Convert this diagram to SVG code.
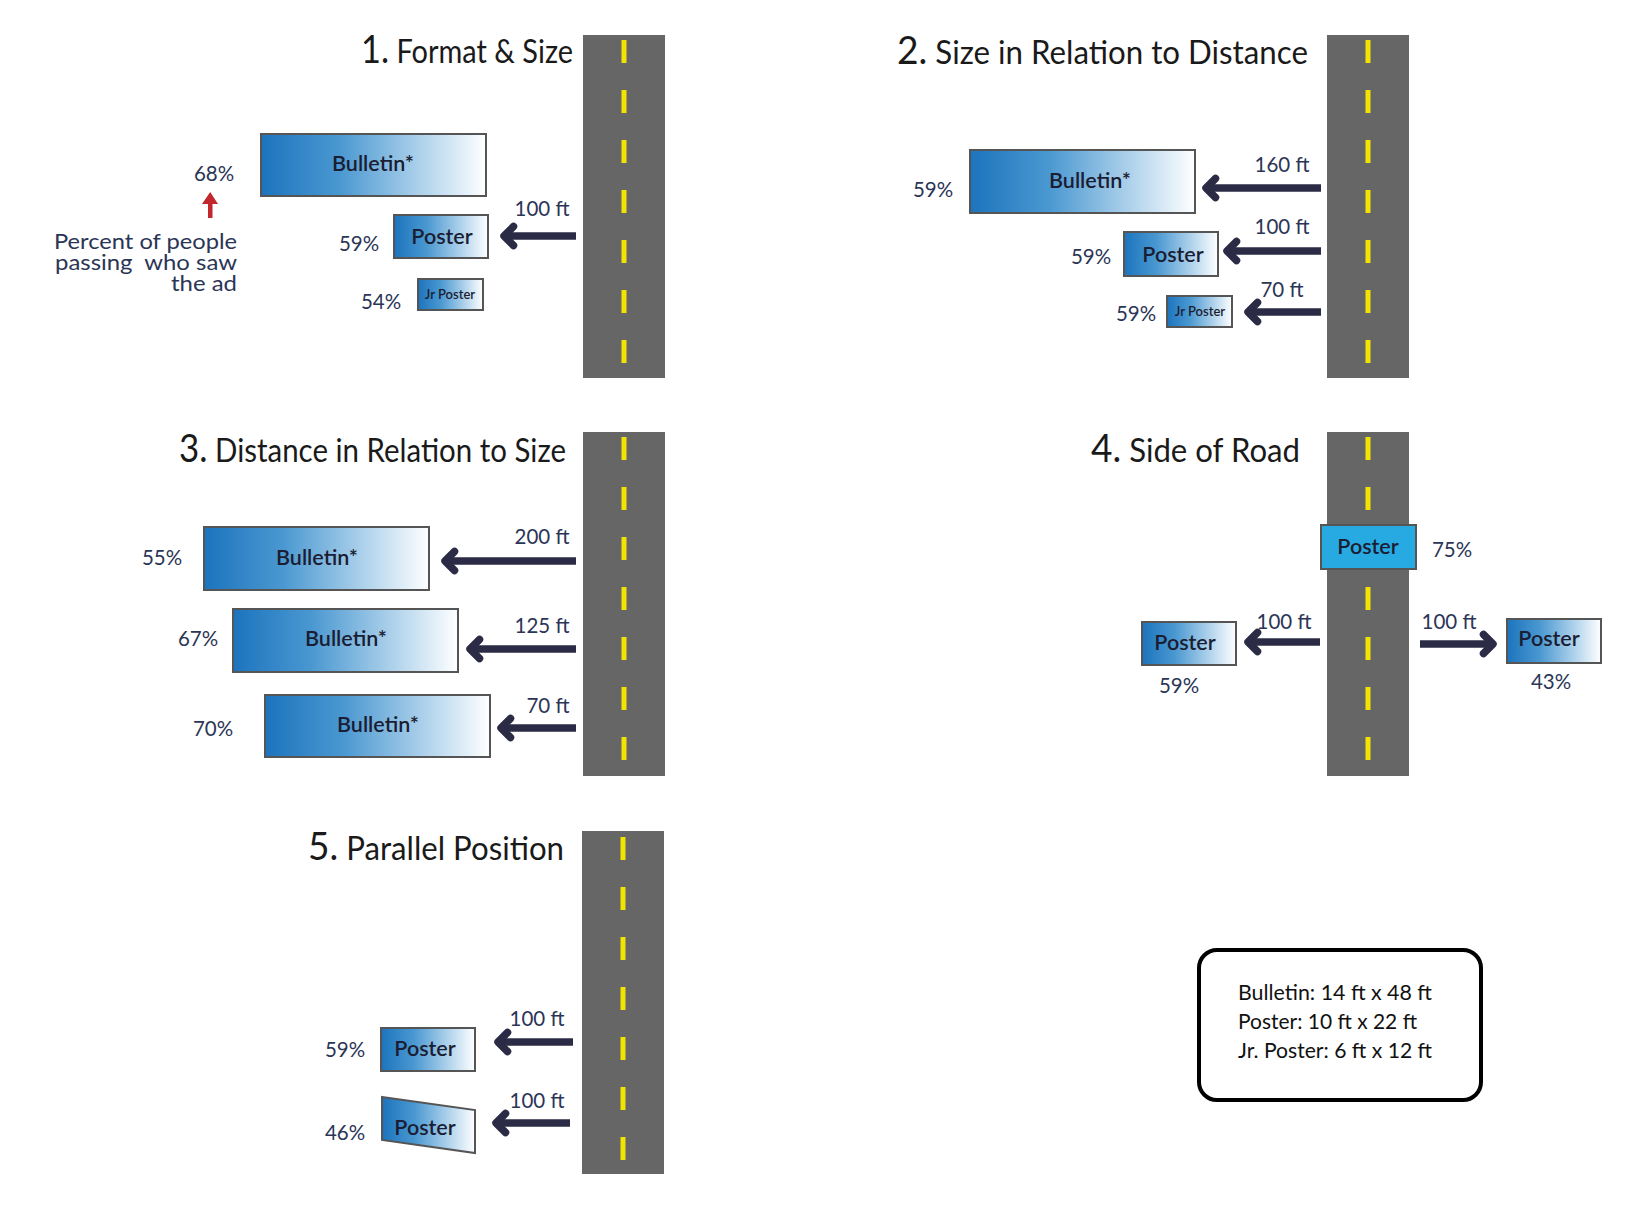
<svg xmlns="http://www.w3.org/2000/svg" width="1649" height="1219" viewBox="0 0 1649 1219">
<defs>
<style>
.road{fill:#666666}
.dash{stroke:#f2e400;stroke-width:5;stroke-dasharray:23 27}
.box{fill:url(#bg);stroke:#555555;stroke-width:2}
.title{font-family:Lato,"Open Sans",sans-serif;font-size:32px;fill:#1a1a1a}
.big{font-size:38px}
.lbl{font-family:Lato,"Open Sans",sans-serif;font-size:20.5px;fill:#2b3556;text-anchor:middle}
.bt{font-family:Lato,"Open Sans",sans-serif;font-size:21.5px;font-weight:600;fill:#1b1d33;text-anchor:middle}
.jr{font-size:13px}
.arr{stroke:#2b2b45;stroke-width:7.5;fill:none;marker-end:url(#ah)}
.note{font-family:Lato,"Open Sans",sans-serif;font-size:22px;fill:#2b3556;text-anchor:end}
.leg{font-family:Lato,"Open Sans",sans-serif;font-size:21px;fill:#111111}
</style>
<linearGradient id="bg" x1="0" y1="0" x2="1" y2="0">
<stop offset="0" stop-color="#1c74bd"/>
<stop offset="0.35" stop-color="#4a98d1"/>
<stop offset="0.75" stop-color="#b9d8ee"/>
<stop offset="1" stop-color="#ffffff"/>
</linearGradient>
<marker id="ah" markerUnits="userSpaceOnUse" markerWidth="40" markerHeight="40" viewBox="-20 -20 40 40" refX="0" refY="0" orient="auto">
<path d="M -9.5 -9.5 L 0 0 L -9.5 9.5" fill="none" stroke="#2b2b45" stroke-width="7.5" stroke-linecap="round" stroke-linejoin="round"/>
</marker>
</defs>
<rect width="1649" height="1219" fill="#ffffff"/>

<!-- Roads -->
<g id="road1"><rect class="road" x="583" y="35" width="82" height="343"/><line class="dash" x1="624" y1="40" x2="624" y2="364"/></g>
<g id="road2"><rect class="road" x="1327" y="35" width="82" height="343"/><line class="dash" x1="1368" y1="40" x2="1368" y2="364"/></g>
<g id="road3"><rect class="road" x="583" y="432" width="82" height="344"/><line class="dash" x1="624" y1="437" x2="624" y2="761"/></g>
<g id="road4"><rect class="road" x="1327" y="432" width="82" height="344"/><line class="dash" x1="1368" y1="437" x2="1368" y2="761"/></g>
<g id="road5"><rect class="road" x="582" y="831" width="82" height="343"/><line class="dash" x1="623" y1="837" x2="623" y2="1161"/></g>

<!-- Titles -->
<text class="title" x="361" y="63" textLength="212" lengthAdjust="spacingAndGlyphs"><tspan class="big">1.</tspan> Format &amp; Size</text>
<text class="title" x="897" y="64" textLength="411" lengthAdjust="spacingAndGlyphs"><tspan class="big">2.</tspan> Size in Relation to Distance</text>
<text class="title" x="179" y="462" textLength="387" lengthAdjust="spacingAndGlyphs"><tspan class="big">3.</tspan> Distance in Relation to Size</text>
<text class="title" x="1091" y="462" textLength="209" lengthAdjust="spacingAndGlyphs"><tspan class="big">4.</tspan> Side of Road</text>
<text class="title" x="308" y="860" textLength="256" lengthAdjust="spacingAndGlyphs"><tspan class="big">5.</tspan> Parallel Position</text>

<!-- Panel 1 -->
<g id="p1-bulletin"><rect class="box" x="261" y="134" width="225" height="62"/><text class="bt" x="373" y="171">Bulletin*</text></g>
<g id="p1-poster"><rect class="box" x="394" y="215" width="94" height="43"/><text class="bt" x="442" y="244">Poster</text></g>
<g id="p1-jr"><rect class="box" x="418" y="279" width="65" height="31"/><text class="bt jr" x="450" y="299">Jr Poster</text></g>
<text class="lbl" x="214" y="181">68%</text>
<text class="lbl" x="359" y="251">59%</text>
<text class="lbl" x="381" y="309">54%</text>
<text class="lbl" x="542" y="216">100 ft</text>
<g id="p1-legend-arrow"><rect x="208" y="200" width="4.5" height="18" fill="#c1272d"/><polygon points="202,204 210.2,192 218,204" fill="#c1272d"/></g>
<text class="note" x="237" y="249" textLength="183" lengthAdjust="spacingAndGlyphs">Percent of people</text>
<text class="note" x="237" y="270" textLength="182" lengthAdjust="spacingAndGlyphs" style="white-space:pre">passing  who saw</text>
<text class="note" x="237" y="291" textLength="66" lengthAdjust="spacingAndGlyphs">the ad</text>

<!-- Panel 2 -->
<g id="p2-bulletin"><rect class="box" x="970" y="150" width="225" height="63"/><text class="bt" x="1090" y="188">Bulletin*</text></g>
<g id="p2-poster"><rect class="box" x="1124" y="232" width="94" height="44"/><text class="bt" x="1173" y="262">Poster</text></g>
<g id="p2-jr"><rect class="box" x="1167" y="296" width="65" height="31"/><text class="bt jr" x="1200" y="316">Jr Poster</text></g>
<text class="lbl" x="933" y="197">59%</text>
<text class="lbl" x="1091" y="264">59%</text>
<text class="lbl" x="1136" y="321">59%</text>
<text class="lbl" x="1282" y="172">160 ft</text>
<text class="lbl" x="1282" y="234">100 ft</text>
<text class="lbl" x="1282" y="297">70 ft</text>

<!-- Panel 3 -->
<g id="p3-bulletin-a"><rect class="box" x="204" y="527" width="225" height="63"/><text class="bt" x="317" y="565">Bulletin*</text></g>
<g id="p3-bulletin-b"><rect class="box" x="233" y="609" width="225" height="63"/><text class="bt" x="346" y="646">Bulletin*</text></g>
<g id="p3-bulletin-c"><rect class="box" x="265" y="695" width="225" height="62"/><text class="bt" x="378" y="732">Bulletin*</text></g>
<text class="lbl" x="162" y="565">55%</text>
<text class="lbl" x="198" y="646">67%</text>
<text class="lbl" x="213" y="736">70%</text>
<text class="lbl" x="542" y="544">200 ft</text>
<text class="lbl" x="542" y="633">125 ft</text>
<text class="lbl" x="548" y="713">70 ft</text>

<!-- Panel 4 -->
<g id="p4-poster-top"><rect x="1321" y="525" width="95" height="44" fill="#27a9e1" stroke="#555555" stroke-width="2"/><text class="bt" x="1368" y="554">Poster</text></g>
<g id="p4-poster-left"><rect class="box" x="1142" y="622" width="94" height="43"/><text class="bt" x="1185" y="650">Poster</text></g>
<g id="p4-poster-right"><rect class="box" x="1507" y="619" width="94" height="44"/><text class="bt" x="1549" y="646">Poster</text></g>
<text class="lbl" x="1452" y="557">75%</text>
<text class="lbl" x="1179" y="693">59%</text>
<text class="lbl" x="1551" y="689">43%</text>
<text class="lbl" x="1284" y="629">100 ft</text>
<text class="lbl" x="1449" y="629">100 ft</text>

<!-- Panel 5 -->
<g id="p5-poster"><rect class="box" x="381" y="1028" width="94" height="43"/><text class="bt" x="425" y="1056">Poster</text></g>
<g id="p5-poster-skew"><polygon class="box" points="382,1097 475,1110 475,1153 382,1140"/><text class="bt" x="425" y="1135">Poster</text></g>
<text class="lbl" x="345" y="1057">59%</text>
<text class="lbl" x="345" y="1140">46%</text>
<text class="lbl" x="537" y="1026">100 ft</text>
<text class="lbl" x="537" y="1108">100 ft</text>

<!-- Legend -->
<g id="legend">
<rect x="1199" y="950" width="282" height="150" rx="18" ry="18" fill="#ffffff" stroke="#000000" stroke-width="4"/>
<text class="leg" x="1238" y="1000" textLength="194" lengthAdjust="spacingAndGlyphs">Bulletin: 14 ft x 48 ft</text>
<text class="leg" x="1238" y="1029" textLength="179" lengthAdjust="spacingAndGlyphs">Poster: 10 ft x 22 ft</text>
<text class="leg" x="1238" y="1058" textLength="194" lengthAdjust="spacingAndGlyphs">Jr. Poster: 6 ft x 12 ft</text>
</g>

<!-- Connectors -->
<g id="connectors">
<line class="arr" x1="576" y1="236" x2="504" y2="236"/>
<line class="arr" x1="1321" y1="188" x2="1206" y2="188"/>
<line class="arr" x1="1321" y1="251" x2="1227" y2="251"/>
<line class="arr" x1="1321" y1="312" x2="1248" y2="312"/>
<line class="arr" x1="576" y1="561" x2="445" y2="561"/>
<line class="arr" x1="576" y1="649" x2="470" y2="649"/>
<line class="arr" x1="576" y1="728" x2="501" y2="728"/>
<line class="arr" x1="1320" y1="642" x2="1248" y2="642"/>
<line class="arr" x1="1420" y1="644" x2="1493" y2="644"/>
<line class="arr" x1="573" y1="1042" x2="498" y2="1042"/>
<line class="arr" x1="570" y1="1123" x2="496" y2="1123"/>
</g>
</svg>
